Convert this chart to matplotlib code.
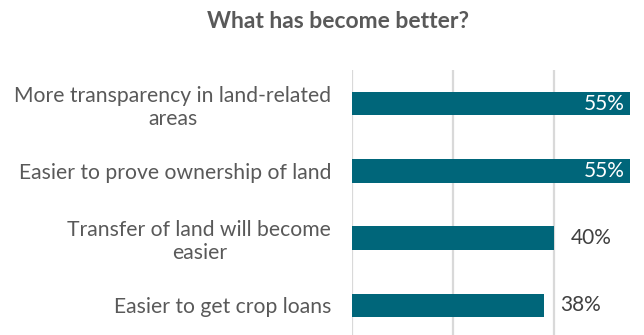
import matplotlib
matplotlib.use("Agg")
from matplotlib import pyplot as plt

# Survey answers, top to bottom
categories = [
    "More transparency in land-related\nareas",
    "Easier to prove ownership of land",
    "Transfer of land will become\neasier",
    "Easier to get crop loans",
]
shares = [55, 55, 40, 38]
value_labels = ["55%", "55%", "40%", "38%"]

barColor = "#00667a"
textColor = "#595959"

plt.rcParams["font.family"] = ["Lato", "DejaVu Sans"]

fig = plt.figure(figsize=(6.44, 3.35), dpi=100)
ax = fig.add_axes([352 / 644, 0.0, 1 - 352 / 644, (335 - 70) / 335])

ypos = list(range(len(categories)))
ax.barh(ypos, shares, height=0.35, color=barColor, zorder=3)

ax.set_xlim(0, 57.8)
ax.set_ylim(3.44, -0.5)

# light vertical gridlines at every 20%
for xv in [0, 20, 40]:
    ax.axvline(xv, color="#d9d9d9", lw=1.6, zorder=1)

ax.set_yticks(ypos)
ax.set_yticklabels(categories, fontsize=15.2, color=textColor)
for lbl in ax.get_yticklabels():
    lbl.set_multialignment("center")
ax.tick_params(axis="y", length=0, pad=15)
ax.tick_params(axis="x", length=0, labelbottom=False)
for s in ax.spines.values():
    s.set_visible(False)

# value labels: inside the bar if it is long, outside otherwise
for y, v, t in zip(ypos, shares, value_labels):
    if v >= 50:
        ax.annotate(t, (v, y), xytext=(-4, 0), textcoords="offset points",
                    ha="right", va="center", fontsize=15, color="white", zorder=4)
    else:
        ax.annotate(t, (v, y), xytext=(12, 0), textcoords="offset points",
                    ha="left", va="center", fontsize=15, color="#404040", zorder=4)

fig.text(338 / 644, 1 - 21 / 335, "What has become better?", ha="center", va="center",
         fontsize=16.5, fontweight="bold", color=textColor)

fig.savefig("out.png", dpi=100)
